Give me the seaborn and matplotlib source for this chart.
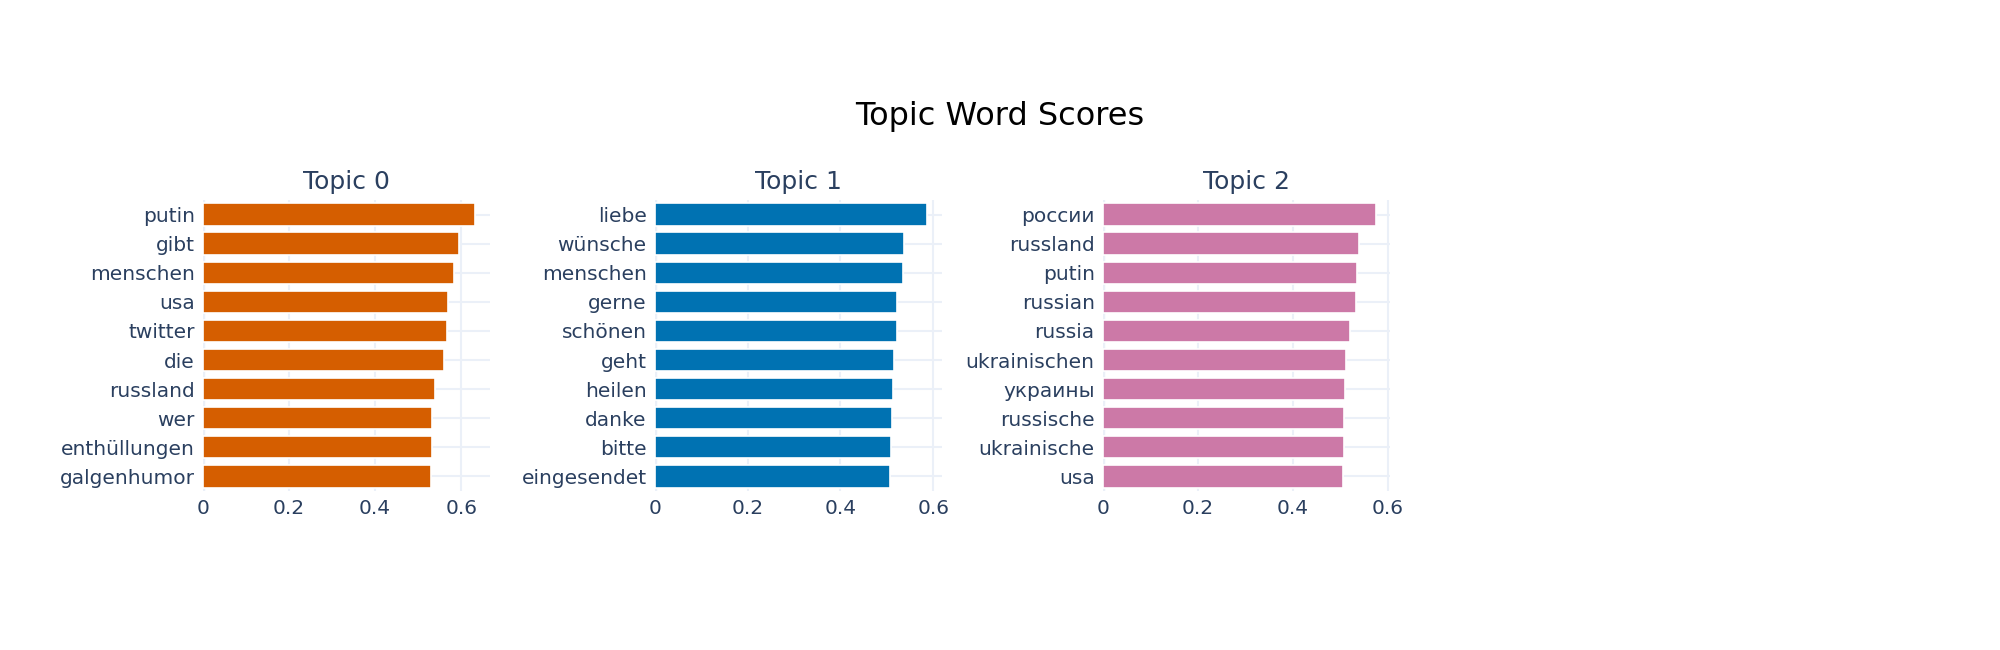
import matplotlib
matplotlib.use("Agg")
import matplotlib.pyplot as plt
import pandas as pd
import seaborn as sns

topic0_words = ["putin", "gibt", "menschen", "usa", "twitter", "die", "russland", "wer",
                "enthüllungen", "galgenhumor"]
topic0_scores = [0.633, 0.596, 0.584, 0.570, 0.566, 0.559, 0.539, 0.532, 0.532, 0.530]

topic1_words = ["liebe", "wünsche", "menschen", "gerne", "schönen", "geht", "heilen", "danke",
                "bitte", "eingesendet"]
topic1_scores = [0.586, 0.538, 0.534, 0.522, 0.522, 0.515, 0.514, 0.512, 0.508, 0.506]

topic2_words = ["россии", "russland", "putin", "russian", "russia", "ukrainischen", "украины",
                "russische", "ukrainische", "usa"]
topic2_scores = [0.574, 0.538, 0.534, 0.533, 0.519, 0.512, 0.510, 0.508, 0.507, 0.506]

titles = ["Topic 0", "Topic 1", "Topic 2"]
colors = ["#D55E00", "#0072B2", "#CC79A7"]
xmax = [0.667, 0.619, 0.604]

sns.set_style("white")
plt.rcParams["font.family"] = ["DejaVu Sans"]
text_color = "#2a3f5f"
grid_color = "#EBF0F8"

fig = plt.figure(figsize=(20, 6.5), dpi=100)
fig.text(0.5, 0.82, "Topic Word Scores", ha="center", va="center", fontsize=23, color="black")

lefts = [0.1015, 0.3275, 0.5515]
width = 0.1435
series = [(topic0_words, topic0_scores), (topic1_words, topic1_scores),
          (topic2_words, topic2_scores)]

for i, (words, scores) in enumerate(series):
    ax = fig.add_axes([lefts[i], 0.245, width, 0.447])
    df = pd.DataFrame({"word": words, "score": scores})
    sns.barplot(data=df, x="score", y="word", ax=ax, color=colors[i], width=0.78,
                edgecolor="white", linewidth=1.2, saturation=1)
    ax.set_xlim(0, xmax[i])
    ax.set_xticks([0, 0.2, 0.4, 0.6])
    ax.set_xticklabels(["0", "0.2", "0.4", "0.6"])
    ax.set_xlabel("")
    ax.set_ylabel("")
    ax.set_axisbelow(True)
    ax.grid(True, axis="both", color=grid_color, linewidth=1.5)
    for s in ax.spines.values():
        s.set_visible(False)
    ax.axvline(0, color=grid_color, linewidth=2.5, zorder=0)
    ax.tick_params(axis="both", length=0, labelsize=14.5, labelcolor=text_color, pad=6)
    ax.set_title(titles[i], fontsize=18, color=text_color, pad=8)

fig.savefig("out.png", dpi=100, facecolor="white")
